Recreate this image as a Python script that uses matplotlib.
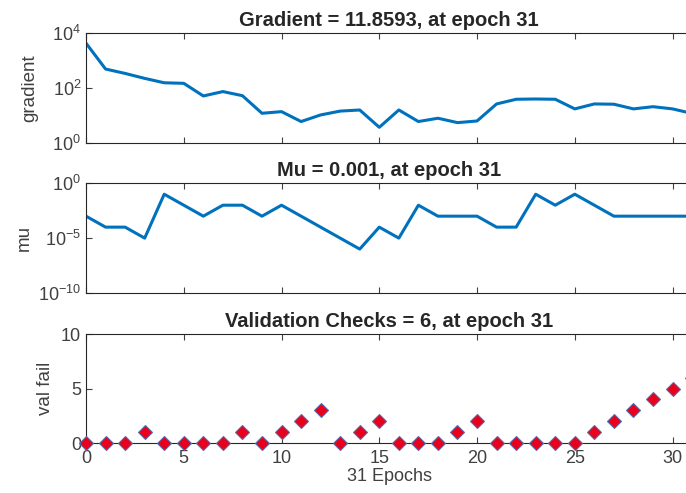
import matplotlib.pyplot as plt
import numpy as np

plt.rcParams['font.family'] = ['Liberation Sans', 'DejaVu Sans']
plt.rcParams['axes.unicode_minus'] = False

epochs = np.arange(0, 32)

# log10 of gradient
grad_log = [3.63, 2.69, 2.53, 2.35, 2.19, 2.17, 1.71, 1.87, 1.72, 1.08,
            1.14, 0.78, 1.02, 1.16, 1.20, 0.57, 1.20, 0.78, 0.90, 0.74,
            0.80, 1.42, 1.59, 1.60, 1.59, 1.24, 1.42, 1.41, 1.24, 1.32,
            1.24, 1.074]
gradient = 10.0 ** np.array(grad_log)

mu_exp = [-3, -4, -4, -5, -1, -2, -3, -2, -2, -3,
          -2, -3, -4, -5, -6, -4, -5, -2, -3, -3,
          -3, -4, -4, -1, -2, -1, -2, -3, -3, -3,
          -3, -3]
mu = 10.0 ** np.array(mu_exp, dtype=float)

val_fail = [0, 0, 0, 1, 0, 0, 0, 0, 1, 0,
            1, 2, 3, 0, 1, 2, 0, 0, 0, 1,
            2, 0, 0, 0, 0, 0, 1, 2, 3, 4,
            5, 6]

titles = ["Gradient = 11.8593, at epoch 31",
          "Mu = 0.001, at epoch 31",
          "Validation Checks = 6, at epoch 31"]

blue = '#0072BD'
gray = '#262626'
tick_gray = '#404040'

fig = plt.figure(figsize=(6.86, 4.93), dpi=100)
left, width = 0.1254, 0.8835
ax1 = fig.add_axes([left, 0.710, width, 0.223])
ax2 = fig.add_axes([left, 0.4057, width, 0.2226])
ax3 = fig.add_axes([left, 0.1014, width, 0.221])

ax1.semilogy(epochs, gradient, color=blue, lw=2.2)
ax1.set_ylim(1, 1e4)
ax1.set_yticks([1, 1e2, 1e4])
ax1.set_ylabel("gradient", fontsize=13.5, color=tick_gray, labelpad=10)

ax2.semilogy(epochs, mu, color=blue, lw=2.2)
ax2.set_ylim(1e-10, 1)
ax2.set_yticks([1e-10, 1e-5, 1])
ax2.set_ylabel("mu", fontsize=13.5, color=tick_gray, labelpad=4)

ax3.plot(epochs, val_fail, linestyle='none', marker='D', markersize=7,
         markerfacecolor='#E8001C', markeredgecolor='#5a6aa8', markeredgewidth=0.8,
         clip_on=False, zorder=5)
ax3.set_ylim(0, 10)
ax3.set_yticks([0, 5, 10])
ax3.set_ylabel("val fail", fontsize=13.5, color=tick_gray, labelpad=5)
ax3.set_xlabel("31 Epochs", fontsize=13, color=tick_gray, labelpad=1)

for ax, t in zip([ax1, ax2, ax3], titles):
    ax.set_xlim(0, 31)
    ax.set_xticks(np.arange(0, 31, 5))
    ax.minorticks_off()
    ax.tick_params(direction='in', top=True, right=True, length=4,
                   labelsize=13, colors=tick_gray, width=0.8)
    ax.tick_params(axis='x', pad=5)
    for s in ax.spines.values():
        s.set_color(gray)
        s.set_linewidth(0.8)
    ax.set_title(t, fontsize=14.5, fontweight='bold', color=gray, pad=5)
    if ax is not ax3:
        ax.tick_params(labelbottom=False)

fig.savefig("out.png", dpi=100)
